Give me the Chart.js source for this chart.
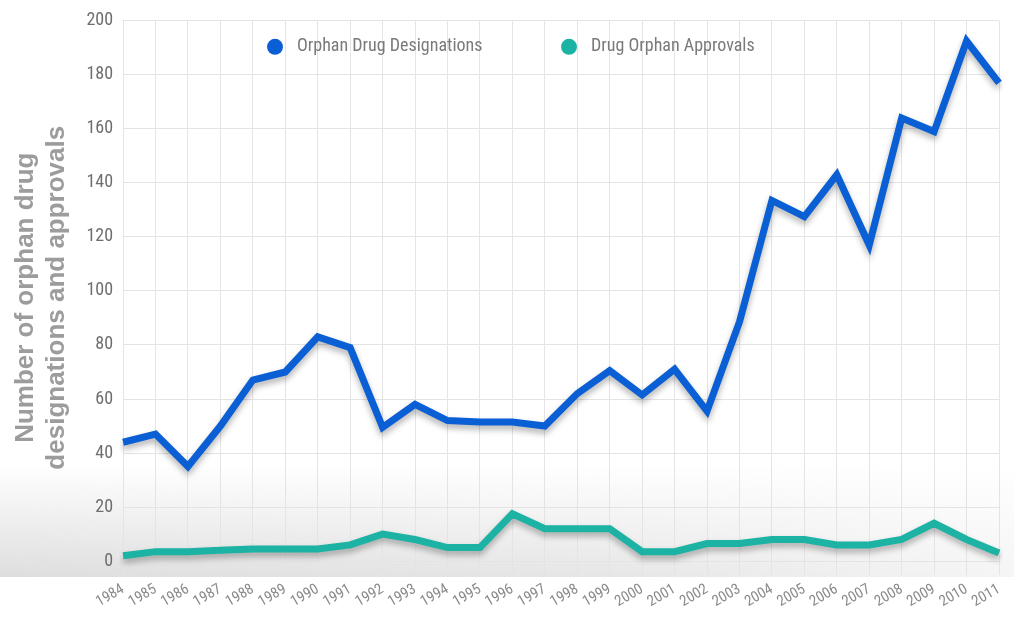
<!DOCTYPE html>
<html>
<head>
<meta charset="utf-8">
<script src="https://cdn.jsdelivr.net/npm/chart.js@4"></script>
<style>
  html, body { margin: 0; padding: 0; background: #fff; }
  #wrap { width: 1014px; height: 617px; position: relative; }
</style>
</head>
<body>
<div id="wrap"><canvas id="chart"></canvas></div>
<script>
// Orphan drug designations vs approvals, 1984-2011
const years = ['1984','1985','1986','1987','1988','1989','1990','1991','1992','1993','1994','1995','1996','1997',
  '1998','1999','2000','2001','2002','2003','2004','2005','2006','2007','2008','2009','2010','2011'];
const designations = [44, 47, 35, 50, 67, 70, 83, 79, 49.5, 58, 52, 51.5, 51.5, 50,
  62, 70.5, 61.5, 71, 55.5, 88.5, 133.5, 127.5, 143, 117, 164, 159, 192.5, 177];
const approvals = [2, 3.5, 3.5, 4, 4.5, 4.5, 4.5, 6, 10, 8, 5, 5, 17.5, 12,
  12, 12, 3.5, 3.5, 6.5, 6.5, 8, 8, 6, 6, 8, 14, 8, 3];
const yTicks = [0, 20, 40, 60, 80, 100, 120, 140, 160, 180, 200];

const narrow = '"Liberation Sans Narrow", "Roboto Condensed", Roboto, sans-serif';

// soft grey fade behind the bottom of the chart
const backdrop = {
  id: 'backdrop',
  beforeDraw(chart) {
    const { ctx, width } = chart;
    ctx.save();
    const g = ctx.createLinearGradient(0, 465, 0, 577);
    g.addColorStop(0, 'rgba(222,222,222,0)');
    g.addColorStop(1, 'rgba(222,222,222,1)');
    ctx.fillStyle = g;
    ctx.fillRect(0, 465, width, 112);
    const h = ctx.createLinearGradient(0, 0, width, 0);
    h.addColorStop(0, 'rgba(255,255,255,0)');
    h.addColorStop(0.6, 'rgba(255,255,255,0.25)');
    h.addColorStop(1, 'rgba(255,255,255,0.7)');
    ctx.fillStyle = h;
    ctx.fillRect(0, 465, width, 112);
    ctx.restore();
  }
};

const lineShadow = {
  id: 'lineShadow',
  beforeDatasetsDraw(chart) {
    const ctx = chart.ctx;
    ctx.save();
    ctx.shadowColor = 'rgba(0,0,0,0.3)';
    ctx.shadowBlur = 6;
    ctx.shadowOffsetY = 4;
  },
  afterDatasetsDraw(chart) {
    chart.ctx.restore();
  }
};

// legend sits inside the plot area, so it is drawn here instead of taking layout space
const innerLegend = {
  id: 'innerLegend',
  afterDatasetsDraw(chart) {
    const ctx = chart.ctx;
    const xs = [275, 569];
    const y = chart.chartArea.top + 26;
    ctx.save();
    ctx.font = '18px ' + narrow;
    ctx.textBaseline = 'middle';
    chart.data.datasets.forEach((ds, i) => {
      ctx.beginPath();
      ctx.arc(xs[i], y, 8, 0, Math.PI * 2);
      ctx.fillStyle = ds.borderColor;
      ctx.fill();
      ctx.fillStyle = '#7a7a7a';
      ctx.fillText(ds.label, xs[i] + 22, y);
    });
    ctx.restore();
  }
};

new Chart(document.getElementById('chart'), {
  type: 'line',
  data: {
    labels: years,
    datasets: [
      {
        label: 'Orphan Drug Designations',
        data: designations,
        borderColor: '#0b5fd4',
        backgroundColor: '#0b5fd4',
        borderWidth: 7,
        pointRadius: 0,
        tension: 0
      },
      {
        label: 'Drug Orphan Approvals',
        data: approvals,
        borderColor: '#1cb3a4',
        backgroundColor: '#1cb3a4',
        borderWidth: 7,
        pointRadius: 0,
        tension: 0
      }
    ]
  },
  options: {
    responsive: true,
    maintainAspectRatio: false,
    animation: false,
    layout: { padding: { top: 17, right: 2, left: 10, bottom: 0 } },
    plugins: {
      legend: { display: false },
      tooltip: { enabled: false }
    },
    scales: {
      x: {
        offset: false,
        grid: { color: '#e4e4e4', lineWidth: 1, drawTicks: false },
        border: { display: false },
        ticks: {
          color: '#8a8a8a',
          font: { family: narrow, size: 15 },
          maxRotation: 30,
          minRotation: 30,
          padding: 6,
          autoSkip: false
        }
      },
      y: {
        min: -5,
        max: 200,
        afterBuildTicks: axis => { axis.ticks = yTicks.map(v => ({ value: v })); },
        grid: { color: '#e4e4e4', lineWidth: 1, drawTicks: false },
        border: { display: false },
        ticks: {
          color: '#6e6e6e',
          font: { family: narrow, size: 18 },
          padding: 10
        },
        title: {
          display: true,
          text: ['Number of orphan drug', 'designations and approvals'],
          color: '#9c9c9c',
          font: { family: '"Liberation Sans", Arial, sans-serif', size: 26, weight: 'bold' },
          lineHeight: 1.15,
          padding: { top: 0, bottom: 4 }
        }
      }
    }
  },
  plugins: [backdrop, lineShadow, innerLegend]
});
</script>
</body>
</html>
